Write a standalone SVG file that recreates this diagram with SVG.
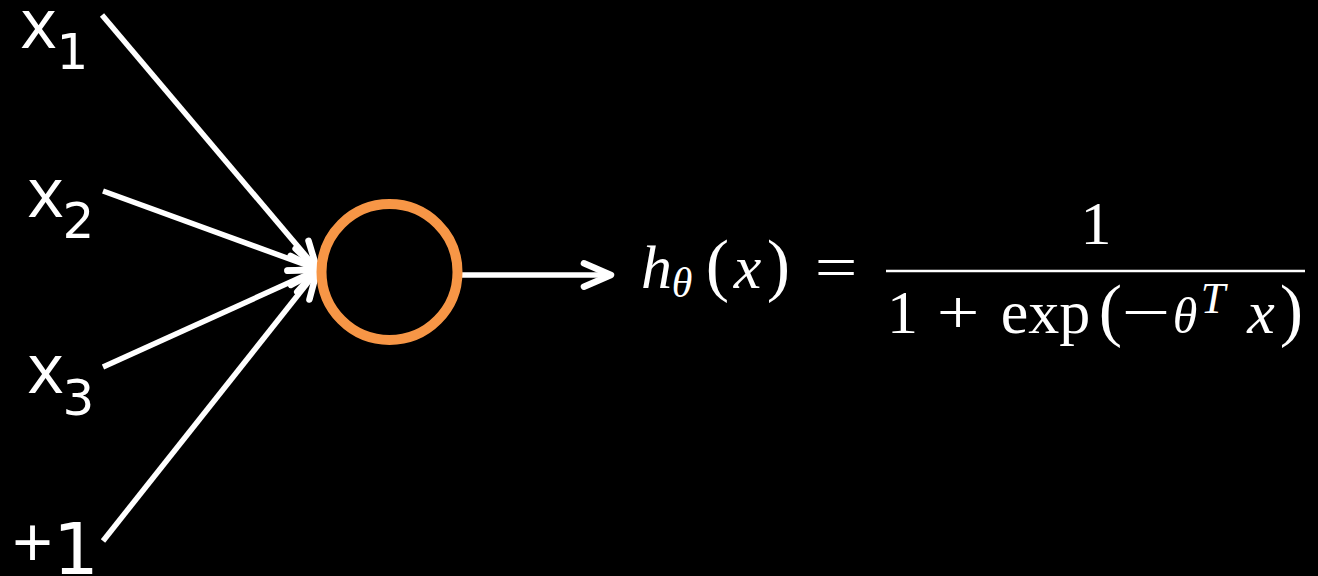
<svg xmlns="http://www.w3.org/2000/svg" width="1318" height="576" viewBox="0 0 1318 576">
  <style>
    .lbl { font-family: "Open Sans", "DejaVu Sans", sans-serif; fill: #ffffff; }
    .dig { font-family: "DejaVu Sans", "Open Sans", sans-serif; fill: #ffffff; }
    .mi { font-family: "Liberation Serif", "DejaVu Serif", serif; font-style: italic; fill: #ffffff; }
    .mr { font-family: "Liberation Serif", "DejaVu Serif", serif; fill: #ffffff; }
    .conn { stroke: #ffffff; stroke-width: 5.5; fill: none; }
  </style>
  <defs>
    <marker id="arr" markerUnits="userSpaceOnUse" markerWidth="40" markerHeight="40" refX="0" refY="0" viewBox="-30 -15 34 30" orient="auto" overflow="visible">
      <path d="M -23 -10 L 0 0 L -23 10" fill="none" stroke="#ffffff" stroke-width="5.5" stroke-linecap="round" stroke-linejoin="round"/>
    </marker>
  </defs>
  <rect x="0" y="0" width="1318" height="576" fill="#000000"/>

  <g id="connectors">
    <line class="conn" x1="102" y1="15" x2="317" y2="269" marker-end="url(#arr)"/>
    <line class="conn" x1="103" y1="191" x2="317" y2="269" marker-end="url(#arr)"/>
    <line class="conn" x1="103" y1="367" x2="317" y2="270" marker-end="url(#arr)"/>
    <line class="conn" x1="103" y1="541" x2="317" y2="271" marker-end="url(#arr)"/>
    <line class="conn" x1="460" y1="275" x2="611" y2="275" marker-end="url(#arr)"/>
  </g>

  <g id="node-x1">
    <text class="lbl" x="38.5" y="48" font-size="70" text-anchor="middle">x</text>
    <text class="dig" x="72.5" y="69" font-size="50" text-anchor="middle">1</text>
  </g>
  <g id="node-x2">
    <text class="lbl" x="45.5" y="217" font-size="70" text-anchor="middle">x</text>
    <text class="dig" x="78.5" y="238" font-size="50" text-anchor="middle">2</text>
  </g>
  <g id="node-x3">
    <text class="lbl" x="45.5" y="393" font-size="70" text-anchor="middle">x</text>
    <text class="dig" x="78.5" y="415" font-size="50" text-anchor="middle">3</text>
  </g>
  <g id="node-bias">
    <text class="lbl" x="32.5" y="568" font-size="72" text-anchor="middle">+</text>
    <text class="dig" x="76" y="574" font-size="72" text-anchor="middle">1</text>
  </g>

  <g id="node-neuron">
    <circle cx="389.5" cy="272" r="68" fill="none" stroke="#F79646" stroke-width="10"/>
  </g>

  <g id="node-formula">
    <text class="mi" x="641" y="288" font-size="62">h</text>
    <text class="mi" x="682" y="297" font-size="42" text-anchor="middle">θ</text>
    <text class="mr" x="717.5" y="288" font-size="70" text-anchor="middle">(</text>
    <text class="mi" x="747.5" y="288" font-size="62" text-anchor="middle">x</text>
    <text class="mr" x="778.5" y="288" font-size="70" text-anchor="middle">)</text>
    <text class="mr" transform="translate(836,288) scale(1.22,1)" font-size="62" text-anchor="middle">=</text>
    <text class="mr" x="1096" y="244" font-size="62" text-anchor="middle">1</text>
    <line x1="886" y1="271" x2="1305" y2="271" stroke="#ffffff" stroke-width="2.6"/>
    <text class="mr" x="902.5" y="333" font-size="62" text-anchor="middle">1</text>
    <text class="mr" transform="translate(958,333) scale(1.22,1)" font-size="62" text-anchor="middle">+</text>
    <text class="mr" x="1045.5" y="333" font-size="62" text-anchor="middle">exp</text>
    <text class="mr" x="1110.5" y="333" font-size="70" text-anchor="middle">(</text>
    <text class="mr" transform="translate(1146,333) scale(1.4,1)" font-size="62" text-anchor="middle">−</text>
    <text class="mi" x="1185" y="333" font-size="50" text-anchor="middle">θ</text>
    <text class="mi" x="1213" y="313" font-size="44" text-anchor="middle">T</text>
    <text class="mi" x="1261" y="333" font-size="62" text-anchor="middle">x</text>
    <text class="mr" x="1291.5" y="333" font-size="70" text-anchor="middle">)</text>
  </g>
</svg>
